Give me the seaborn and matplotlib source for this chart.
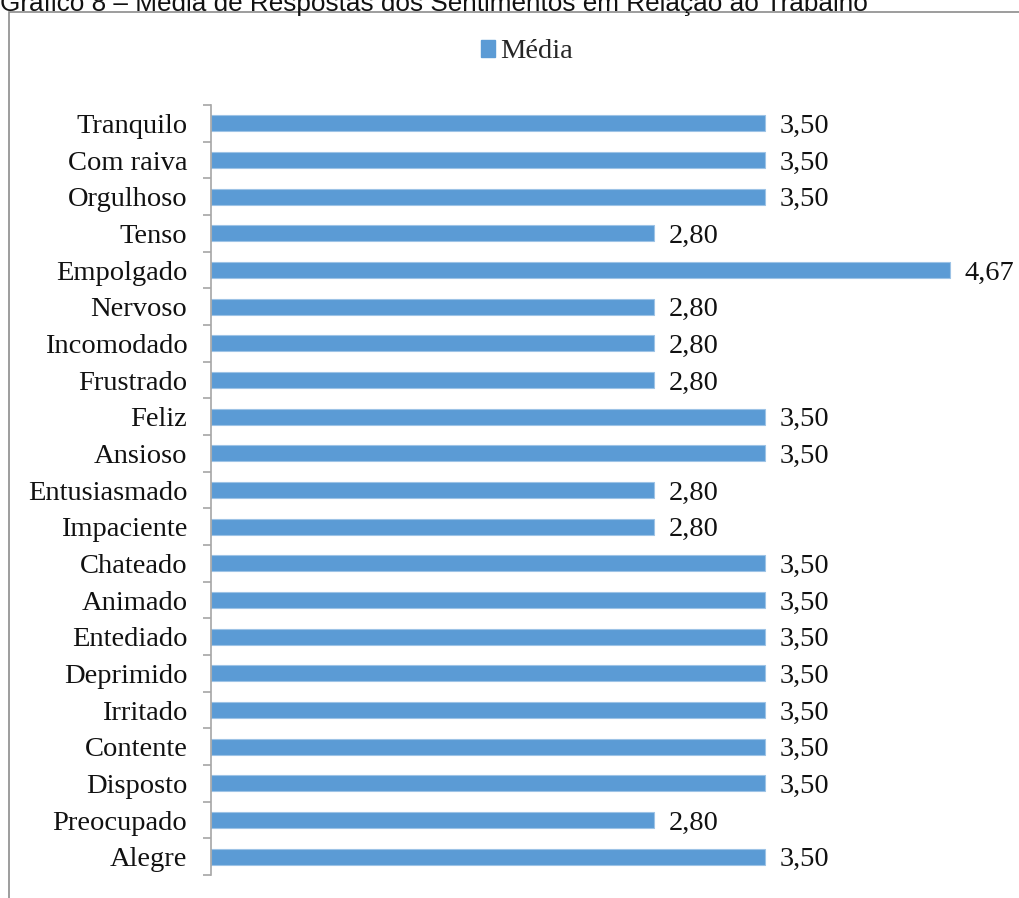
import matplotlib
matplotlib.use("Agg")
import matplotlib.pyplot as plt
from matplotlib.patches import Patch, Rectangle
import seaborn as sns
import pandas as pd

sentimentos = [
    "Tranquilo", "Com raiva", "Orgulhoso", "Tenso", "Empolgado", "Nervoso",
    "Incomodado", "Frustrado", "Feliz", "Ansioso", "Entusiasmado", "Impaciente",
    "Chateado", "Animado", "Entediado", "Deprimido", "Irritado", "Contente",
    "Disposto", "Preocupado", "Alegre",
]
medias = [
    3.50, 3.50, 3.50, 2.80, 4.67, 2.80,
    2.80, 2.80, 3.50, 3.50, 2.80, 2.80,
    3.50, 3.50, 3.50, 3.50, 3.50, 3.50,
    3.50, 2.80, 3.50,
]
titulo = "Gráfico 8 – Média de Respostas dos Sentimentos em Relação ao Trabalho"
serie = "Média"

sns.set_theme(style="white")
plt.rcParams["font.family"] = ["Liberation Serif", "DejaVu Serif"]

W, H = 1019, 898
fig = plt.figure(figsize=(W / 100, H / 100), dpi=100)
fig.patch.set_facecolor("white")

# outer chart frame (open at right and bottom)
fig.patches.append(Rectangle((9 / W, -0.05), 1.2, 1 - 12 / H + 0.05,
                             transform=fig.transFigure, fill=False,
                             edgecolor="#8c8c8c", linewidth=1.2, zorder=0))

fig.text(0.0, 1 - 11 / H, titulo, family="Liberation Sans", fontsize=18.8,
         ha="left", va="baseline", color="#111111")

ax = fig.add_axes([211 / W, 1 - 875 / H, (1002 - 211) / W, (875 - 105) / H])

df = pd.DataFrame({"sentimento": sentimentos, "media": medias})
sns.barplot(data=df, x="media", y="sentimento", orient="h", ax=ax,
            color="#5B9BD5", saturation=1, width=0.44,
            edgecolor="#9dc3e6", linewidth=0.8)

for i, v in enumerate(medias):
    ax.text(v + 0.095, i, f"{v:.2f}".replace(".", ","), va="center_baseline",
            ha="left", fontsize=20.5, color="#111111")

ax.set_xlim(0, 5)
ax.set_ylim(len(sentimentos) - 0.5, -0.5)
ax.set_xlabel("")
ax.set_ylabel("")
ax.set_xticks([])
for s in ["top", "right", "bottom"]:
    ax.spines[s].set_visible(False)
ax.spines["left"].set_color("#a6a6a6")
ax.spines["left"].set_linewidth(1.2)

ax.set_yticks(range(len(sentimentos)))
ax.set_yticklabels(sentimentos, fontsize=20.5, color="#111111",
                   va="center_baseline")
ax.set_yticks([i - 0.5 for i in range(len(sentimentos) + 1)], minor=True)
ax.tick_params(axis="y", which="major", length=0, pad=17)
ax.tick_params(axis="y", which="minor", length=6, width=1.2, color="#a6a6a6",
               direction="out", left=True)

handles = [Patch(facecolor="#5B9BD5", edgecolor="#5B9BD5")]
fig.legend(handles, [serie], loc="center", bbox_to_anchor=(527 / W, 1 - 52 / H),
           frameon=False, fontsize=20.5, handlelength=0.5, handleheight=0.5,
           handletextpad=0.2)

fig.savefig("out.png", dpi=100)
